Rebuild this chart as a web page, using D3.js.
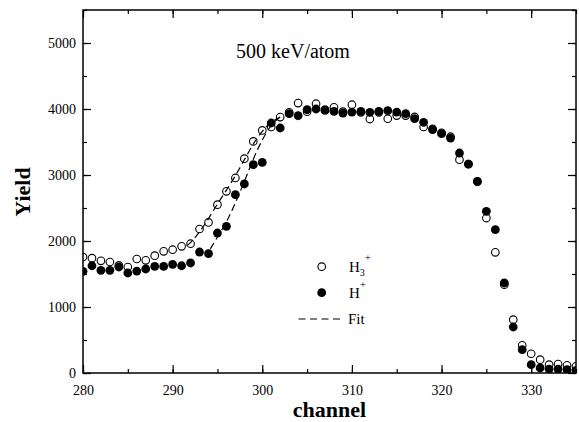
<!DOCTYPE html>
<html>
<head>
<meta charset="utf-8">
<script src="https://cdn.jsdelivr.net/npm/d3@7"></script>
<style>
  body { margin: 0; background: #fff; }
  svg { display: block; font-family: "Liberation Serif", "Times New Roman", serif; }
</style>
</head>
<body>
<div id="chart"></div>
<script>
// channels 280..335
var channels = d3.range(280, 336);

// H3+ (open circles)
var h3Yield = [1757, 1740, 1700, 1682, 1630, 1606, 1727, 1707, 1778, 1843,
  1868, 1919, 1959, 2182, 2282, 2550, 2752, 2955, 3247, 3509,
  3676, 3727, 3878, 3950, 4090, 3960, 4080, 3990, 4025, 3960,
  4065, 3950, 3848, 3950, 3853, 3900, 3900, 3880, 3727, 3700,
  3640, 3580, 3232, 3166, 2900, 2348, 1828, 1338, 808, 419,
  292, 202, 126, 136, 116, 101];

// H+ (filled circles)
var hYield = [1540, 1625, 1555, 1555, 1606, 1515, 1545, 1576, 1615, 1615,
  1645, 1625, 1667, 1833, 1808, 2121, 2222, 2702, 2864, 3156,
  3191, 3788, 3712, 3929, 3898, 3989, 4000, 3979, 3964, 3939,
  3954, 3964, 3949, 3964, 3975, 3954, 3929, 3853, 3798, 3686,
  3626, 3560, 3333, 3166, 2903, 2449, 2171, 1364, 697, 353,
  126, 76, 60, 60, 50, 40];

// dashed fits
var fitH3Ch = [291.6, 292, 293, 294, 295, 296, 297, 298, 299, 300, 301, 302];
var fitH3Y = [1930, 1975, 2140, 2340, 2560, 2770, 2990, 3230, 3470, 3660, 3800, 3880];
var fitHCh = [294.2, 295, 296, 297, 298, 299, 300, 301, 302];
var fitHY = [1880, 2060, 2290, 2580, 2900, 3240, 3530, 3750, 3880];

var xTicks = [280, 290, 300, 310, 320, 330];
var yTicks = [0, 1000, 2000, 3000, 4000, 5000];

var W = 579, H = 422;
var margin = {top: 10, right: 3, bottom: 49, left: 83};
var w = W - margin.left - margin.right, h = H - margin.top - margin.bottom;

var svg = d3.select("#chart").append("svg").attr("width", W).attr("height", H);
var g = svg.append("g").attr("transform", "translate(" + margin.left + "," + margin.top + ")");

var x = d3.scaleLinear().domain([280, 335]).range([0, w]);
var y = d3.scaleLinear().domain([0, 5500]).range([h, 0]);

g.append("clipPath").attr("id", "clip").append("rect").attr("width", w).attr("height", h);

var xMinor = d3.range(280, 336, 5), yMinor = d3.range(0, 5501, 500);

function plain(a) {
  a.select(".domain").remove();
  a.selectAll("line").attr("stroke-width", 1.2);
}
function labelled(a) {
  plain(a);
  a.selectAll("text").attr("font-size", 14).attr("font-family", "Liberation Serif").attr("fill", "#000");
}

// bottom
g.append("g").attr("transform", "translate(0," + h + ")")
  .call(d3.axisBottom(x).tickValues(xMinor).tickSize(-4).tickFormat("")).call(plain);
g.append("g").attr("transform", "translate(0," + h + ")")
  .call(d3.axisBottom(x).tickValues(xTicks).tickSize(-8).tickPadding(12).tickFormat(d3.format("d")))
  .call(labelled);
// top
g.append("g").call(d3.axisTop(x).tickValues(xMinor).tickSize(-4).tickFormat("")).call(plain);
g.append("g").call(d3.axisTop(x).tickValues(xTicks).tickSize(-8).tickFormat("")).call(plain);
// left
g.append("g").call(d3.axisLeft(y).tickValues(yMinor).tickSize(-4).tickFormat("")).call(plain);
g.append("g")
  .call(d3.axisLeft(y).tickValues(yTicks).tickSize(-8).tickPadding(7).tickFormat(d3.format("d")))
  .call(labelled);
// right
g.append("g").attr("transform", "translate(" + w + ",0)")
  .call(d3.axisRight(y).tickValues(yMinor).tickSize(-4).tickFormat("")).call(plain);
g.append("g").attr("transform", "translate(" + w + ",0)")
  .call(d3.axisRight(y).tickValues(yTicks).tickSize(-8).tickFormat("")).call(plain);

// frame
g.append("rect").attr("width", w).attr("height", h)
  .attr("fill", "none").attr("stroke", "#000").attr("stroke-width", 1.5);

var plot = g.append("g").attr("clip-path", "url(#clip)");

plot.selectAll("circle.h3").data(channels).enter().append("circle")
  .attr("class", "h3")
  .attr("cx", function(d) { return x(d); })
  .attr("cy", function(d, i) { return y(h3Yield[i]); })
  .attr("r", 3.8)
  .attr("fill", "none").attr("stroke", "#000").attr("stroke-width", 1.1);

plot.selectAll("circle.h").data(channels).enter().append("circle")
  .attr("class", "h")
  .attr("cx", function(d) { return x(d); })
  .attr("cy", function(d, i) { return y(hYield[i]); })
  .attr("r", 4.4)
  .attr("fill", "#000");

var line = d3.line()
  .x(function(d) { return x(d[0]); })
  .y(function(d) { return y(d[1]); })
  .curve(d3.curveMonotoneX);

plot.append("path").datum(d3.zip(fitH3Ch, fitH3Y)).attr("d", line)
  .attr("fill", "none").attr("stroke", "#000").attr("stroke-width", 1.2).attr("stroke-dasharray", "7,4");
plot.append("path").datum(d3.zip(fitHCh, fitHY)).attr("d", line)
  .attr("fill", "none").attr("stroke", "#000").attr("stroke-width", 1.2).attr("stroke-dasharray", "7,4");

// title inside
svg.append("text").attr("x", 293).attr("y", 58).attr("text-anchor", "middle")
  .attr("font-size", 20).text("500 keV/atom");

// legend
var leg = svg.append("g").attr("font-size", 15);
leg.append("circle").attr("cx", 321.7).attr("cy", 266.7).attr("r", 3.8)
  .attr("fill", "none").attr("stroke", "#000").attr("stroke-width", 1.1);
var t1 = leg.append("text").attr("x", 349).attr("y", 272);
t1.append("tspan").text("H");
t1.append("tspan").attr("font-size", 10).attr("dy", 4).text("3");
t1.append("tspan").attr("font-size", 11).attr("dy", -15).text("+");
leg.append("circle").attr("cx", 321.7).attr("cy", 292.7).attr("r", 4.4).attr("fill", "#000");
var t2 = leg.append("text").attr("x", 349).attr("y", 298);
t2.append("tspan").text("H");
t2.append("tspan").attr("font-size", 11).attr("dy", -10).text("+");
leg.append("line").attr("x1", 298.5).attr("x2", 344).attr("y1", 319).attr("y2", 319)
  .attr("stroke", "#000").attr("stroke-width", 1.2).attr("stroke-dasharray", "7,4.5");
leg.append("text").attr("x", 348).attr("y", 324).text("Fit");

// axis titles
svg.append("text").attr("x", margin.left + w / 2).attr("y", 417).attr("text-anchor", "middle")
  .attr("font-size", 22).attr("font-weight", "bold").text("channel");
svg.append("text").attr("transform", "translate(30,192) rotate(-90)").attr("text-anchor", "middle")
  .attr("font-size", 22).attr("font-weight", "bold").text("Yield");
</script>
</body>
</html>
